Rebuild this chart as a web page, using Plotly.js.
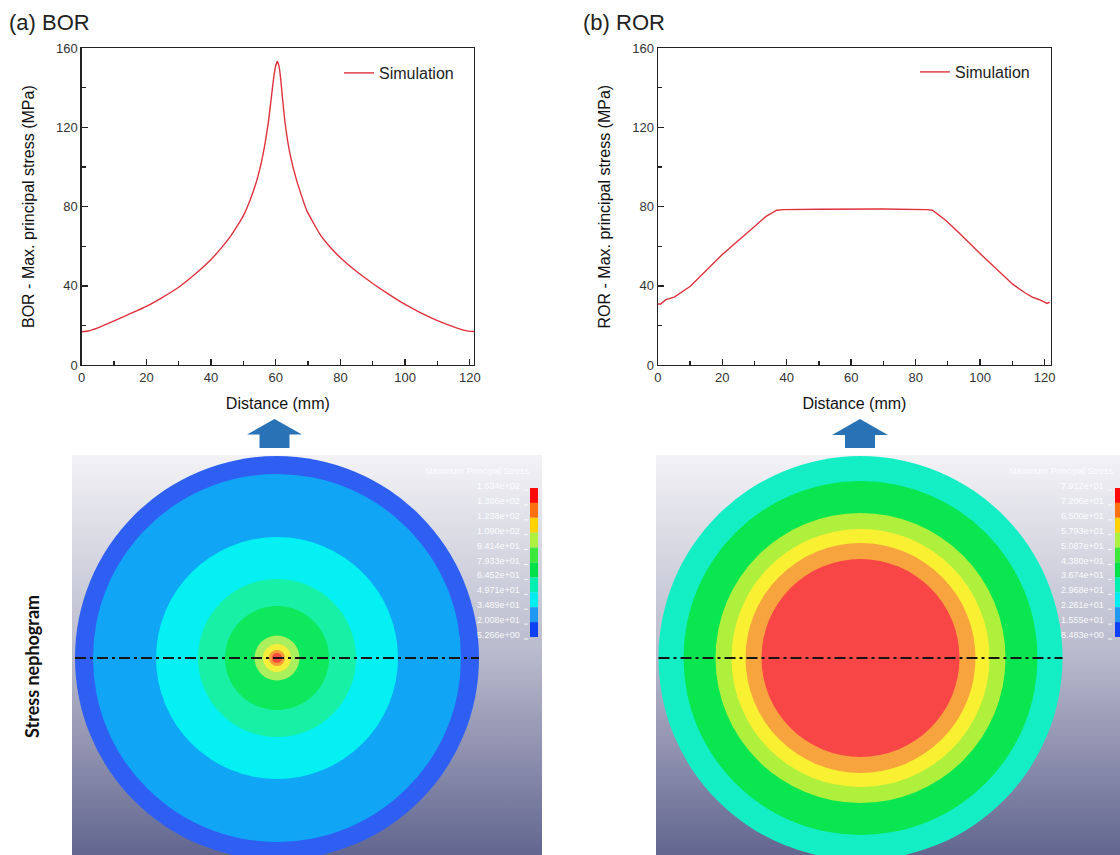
<!DOCTYPE html>
<html>
<head>
<meta charset="utf-8">
<script src="https://cdn.plot.ly/plotly-3.0.1.min.js"></script>
<style>html,body{margin:0;padding:0;background:#fff;}#chart{width:1120px;height:855px;}</style>
</head>
<body>
<div id="chart"></div>
<script>
// ---------- data ----------
const borX = [0, 2, 5, 10, 15, 20, 25, 30, 35, 40, 43, 46, 48, 50, 52, 54, 55.5, 56.2, 57, 57.7, 58.3, 58.8, 59.4, 60, 60.5, 61, 61.5, 61.9, 62.9, 64.4, 66.5, 69.6, 73.7, 77, 80, 85, 90, 95, 100, 105, 110, 115, 119.5, 121.3];
const borY = [16.8, 17.2, 18.8, 22.3, 25.9, 29.6, 34.2, 39.3, 45.8, 53.3, 58.8, 65.0, 70.0, 75.5, 83.0, 92.5, 102, 107.5, 115, 122.5, 130.5, 137.5, 145.5, 151.3, 153.4, 151, 145, 138, 122, 106.7, 93, 78, 66, 59.2, 54.2, 47.2, 41.2, 35.7, 30.6, 26.2, 22.4, 19.3, 17.1, 16.9];

const rorX = [0, 0.9, 2.5, 5.1, 10.1, 20, 30.1, 33.6, 36.9, 39, 50, 60, 70, 83.4, 85.2, 89.3, 93.5, 100.3, 104.3, 110.2, 113.9, 116.2, 118.2, 120.8, 121.6];
const rorY = [30.8, 30.8, 33.0, 34.3, 39.8, 55.8, 70.1, 75.1, 78.2, 78.5, 78.7, 78.8, 78.8, 78.5, 78.2, 73.1, 66.7, 55.8, 49.9, 40.7, 36.5, 34.3, 33.1, 31.1, 31.8];

const xTicks = [0, 20, 40, 60, 80, 100, 120];
const yTicks = [0, 40, 80, 120, 160];

// nephogram contour bands (outer radius in image px, colour)
const borBandRadii = [202, 184, 121, 79, 52, 22.5, 14, 8, 5];
const borBandColors = ['#2f5ff2', '#10a6f5', '#04f0f2', '#18f0a6', '#0ee85c', '#aaf05c', '#f4ee3a', '#f89c3a', '#f64a3c'];
const rorBandRadii = [202, 177, 145, 129, 115, 99];
const rorBandColors = ['#14eec4', '#0ae650', '#aef03c', '#faf032', '#f8a43e', '#f84646'];

const legendHeader = 'Maximum Principal Stress';
const borLegendLabels = ['1.534e+02', '1.386e+02', '1.238e+02', '1.090e+02', '9.414e+01', '7.933e+01', '6.452e+01', '4.971e+01', '3.489e+01', '2.008e+01', '5.266e+00'];
const rorLegendLabels = ['7.912e+01', '7.206e+01', '6.500e+01', '5.793e+01', '5.087e+01', '4.380e+01', '3.674e+01', '2.968e+01', '2.261e+01', '1.555e+01', '8.483e+00'];
const legendColors = ['#ff0a0a', '#ff7010', '#ffd200', '#aef040', '#3ee83a', '#00e048', '#00eeb0', '#00eef2', '#2098f2', '#1040f4'];

// ---------- helpers ----------
const W = 1120, H = 855;
const px = x => x / W;
const py = y => 1 - y / H;

const FONT = 'Arial, "Liberation Sans", sans-serif';
const lineColor = '#e0303c';

function lineAxis(domain, range, ticks) {
  const step = ticks[1] - ticks[0];
  return {
    domain: domain, range: range, tickmode: 'linear', tick0: ticks[0], dtick: step,
    ticks: 'inside', ticklen: 6, tickwidth: 1.4,
    tickcolor: '#222', showline: true, mirror: true, linecolor: '#222', linewidth: 1.3,
    showgrid: false, zeroline: false, fixedrange: true,
    tickfont: {family: FONT, size: 13, color: '#333'},
    minor: {ticks: 'inside', ticklen: 4, tickwidth: 1.2, tickcolor: '#222', tick0: ticks[0], dtick: step / 2, showgrid: false}
  };
}

const data = [
  {x: borX, y: borY, type: 'scatter', mode: 'lines', name: 'Simulation', xaxis: 'x', yaxis: 'y',
   legend: 'legend', line: {color: lineColor, width: 1.4, shape: 'spline', smoothing: 0.4}, hoverinfo: 'x+y'},
  {x: rorX, y: rorY, type: 'scatter', mode: 'lines', name: 'Simulation', xaxis: 'x2', yaxis: 'y2',
   legend: 'legend2', line: {color: lineColor, width: 1.4}, hoverinfo: 'x+y'},
  // section lines across the discs
  {x: [-borBandRadii[0], borBandRadii[0]], y: [0, 0], type: 'scatter', mode: 'lines', xaxis: 'x3', yaxis: 'y3',
   showlegend: false, hoverinfo: 'skip', line: {color: '#151515', width: 2, dash: '11px,4px,3px,4px'}},
  {x: [-rorBandRadii[0], rorBandRadii[0]], y: [0, 0], type: 'scatter', mode: 'lines', xaxis: 'x4', yaxis: 'y4',
   showlegend: false, hoverinfo: 'skip', line: {color: '#151515', width: 2, dash: '11px,4px,3px,4px'}}
];

const shapes = [];
borBandRadii.forEach((r, i) => shapes.push({type: 'circle', xref: 'x3', yref: 'y3', x0: -r, x1: r, y0: -r, y1: r,
  fillcolor: borBandColors[i], line: {width: 0}, layer: 'below'}));
rorBandRadii.forEach((r, i) => shapes.push({type: 'circle', xref: 'x4', yref: 'y4', x0: -r, x1: r, y0: -r, y1: r,
  fillcolor: rorBandColors[i], line: {width: 0}, layer: 'below'}));

const annotations = [
  {text: '(a) BOR', xref: 'paper', yref: 'paper', x: px(7), y: py(22), xanchor: 'left', yanchor: 'middle',
   showarrow: false, font: {family: FONT, size: 22, color: '#222'}},
  {text: '(b) ROR', xref: 'paper', yref: 'paper', x: px(581), y: py(22), xanchor: 'left', yanchor: 'middle',
   showarrow: false, font: {family: FONT, size: 22, color: '#222'}},
  {text: '<b>Stress nephogram</b>', xref: 'paper', yref: 'paper', x: px(32), y: py(667), xanchor: 'center', yanchor: 'middle',
   textangle: -90, showarrow: false, font: {family: 'Lato, "Open Sans", sans-serif', size: 18, color: '#111'}}
];

// colour legend bars inside the nephograms
function colourBar(xLeft, labels, labelRight) {
  const top = 488, step = 14.9, w = 8;
  legendColors.forEach((c, i) => shapes.push({type: 'rect', xref: 'paper', yref: 'paper',
    x0: px(xLeft), x1: px(xLeft + w), y0: py(top + i * step), y1: py(top + (i + 1) * step),
    fillcolor: c, line: {width: 0}}));
  labels.forEach((t, i) => {
    annotations.push({text: t, xref: 'paper', yref: 'paper', x: px(labelRight), y: py(top - 2 + i * step),
      xanchor: 'right', yanchor: 'middle', showarrow: false, font: {family: FONT, size: 9, color: 'rgba(255,255,255,0.92)'}});
    shapes.push({type: 'line', xref: 'paper', yref: 'paper', x0: px(labelRight + 2), x1: px(labelRight + 6),
      y0: py(top + 2 + i * step), y1: py(top + 2 + i * step), line: {color: 'rgba(255,255,255,0.85)', width: 1}});
  });
  annotations.push({text: legendHeader, xref: 'paper', yref: 'paper', x: px(labelRight + 10), y: py(471),
    xanchor: 'right', yanchor: 'middle', showarrow: false, font: {family: FONT, size: 9, color: 'rgba(255,255,255,0.92)'}});
}

// block arrows
function arrow(cx, headHalf, shaftHalf, top, base, bottom) {
  const p = (x, y) => px(x) + ',' + py(y);
  shapes.push({type: 'path', xref: 'paper', yref: 'paper', fillcolor: '#2a72b6', line: {width: 0},
    path: 'M' + p(cx - headHalf, base) + ' L' + p(cx, top) + ' L' + p(cx + headHalf, base) +
          ' L' + p(cx + shaftHalf, base) + ' L' + p(cx + shaftHalf, bottom) + ' L' + p(cx - shaftHalf, bottom) +
          ' L' + p(cx - shaftHalf, base) + ' Z'});
}

colourBar(530, borLegendLabels, 522);
colourBar(1115, rorLegendLabels, 1106);
arrow(274.5, 27.5, 15, 419, 434.5, 448);
arrow(860, 28, 15, 419, 435, 448);

function gradientSVG() {
  const svg = '<svg xmlns="http://www.w3.org/2000/svg" width="100" height="400" preserveAspectRatio="none">' +
    '<defs><linearGradient id="g" x1="0" y1="0" x2="0" y2="1">' +
    '<stop offset="0" stop-color="#f3f3f6"/><stop offset="0.5" stop-color="#b8b9cc"/><stop offset="1" stop-color="#62668f"/>' +
    '</linearGradient></defs><rect width="100" height="400" fill="url(#g)"/></svg>';
  return 'data:image/svg+xml;charset=utf-8,' + encodeURIComponent(svg);
}

const hiddenAxis = (domain, range, anchor) => ({domain: domain, range: range, visible: false, fixedrange: true, anchor: anchor,
  showgrid: false, zeroline: false});

const layout = {
  width: W, height: H, margin: {l: 0, r: 0, t: 0, b: 0},
  paper_bgcolor: '#ffffff', plot_bgcolor: 'rgba(0,0,0,0)',
  font: {family: FONT, color: '#111'},
  xaxis: Object.assign(lineAxis([px(81.7), px(474)], [0, 121.3], xTicks), {anchor: 'y',
    title: {text: 'Distance (mm)', font: {family: FONT, size: 16, color: '#111'}, standoff: 14}}),
  yaxis: Object.assign(lineAxis([py(365), py(48.3)], [0, 160], yTicks), {anchor: 'x',
    title: {text: 'BOR - Max. principal stress (MPa)', font: {family: FONT, size: 16, color: '#111'}, standoff: 17}}),
  xaxis2: Object.assign(lineAxis([px(657.8), px(1051)], [0, 122], xTicks), {anchor: 'y2',
    title: {text: 'Distance (mm)', font: {family: FONT, size: 16, color: '#111'}, standoff: 14}}),
  yaxis2: Object.assign(lineAxis([py(365), py(48.3)], [0, 160], yTicks), {anchor: 'x2',
    title: {text: 'ROR - Max. principal stress (MPa)', font: {family: FONT, size: 16, color: '#111'}, standoff: 17}}),
  xaxis3: hiddenAxis([px(72), px(542)], [-205, 265], 'y3'),
  yaxis3: hiddenAxis([0, py(455)], [-197, 203], 'x3'),
  xaxis4: hiddenAxis([px(656), 1], [-204.5, 259.5], 'y4'),
  yaxis4: hiddenAxis([0, py(455)], [-197, 203], 'x4'),
  legend: {x: px(339), y: py(56), xanchor: 'left', yanchor: 'top', bgcolor: 'rgba(0,0,0,0)', borderwidth: 0,
    font: {family: FONT, size: 16, color: '#222'}},
  legend2: {x: px(915), y: py(55), xanchor: 'left', yanchor: 'top', bgcolor: 'rgba(0,0,0,0)', borderwidth: 0,
    font: {family: FONT, size: 16, color: '#222'}},
  images: [
    {source: gradientSVG(), xref: 'paper', yref: 'paper', x: px(72), y: py(455), sizex: px(542) - px(72), sizey: 400 / H,
     xanchor: 'left', yanchor: 'top', sizing: 'stretch', layer: 'below'},
    {source: gradientSVG(), xref: 'paper', yref: 'paper', x: px(656), y: py(455), sizex: 1 - px(656), sizey: 400 / H,
     xanchor: 'left', yanchor: 'top', sizing: 'stretch', layer: 'below'}
  ],
  shapes: shapes,
  annotations: annotations,
  showlegend: true
};

Plotly.newPlot('chart', data, layout, {displayModeBar: false, staticPlot: true});
</script>
</body>
</html>
